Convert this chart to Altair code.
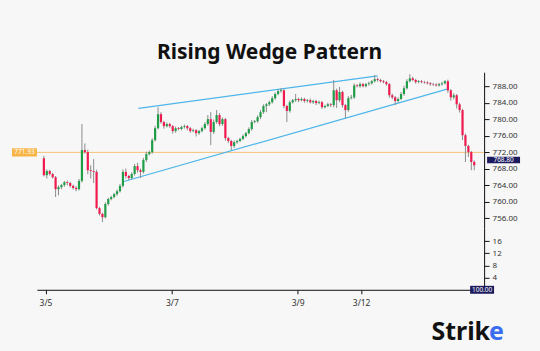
import altair as alt
import pandas as pd

TITLE = "Rising Wedge Pattern"

# closing prices per candle
closes = [
    766.4, 767.4, 766.7, 765.9, 763.0, 763.5, 764.0, 764.7, 764.5, 763.8,
    763.3, 763.0, 765.0, 772.5, 772.0, 767.6, 767.4, 767.2, 758.4, 757.0,
    756.2, 759.4, 760.6, 761.1, 761.8, 762.5, 763.8, 767.2, 766.2, 765.7,
    766.7, 768.6, 767.6, 767.2, 770.1, 771.5, 772.0, 774.9, 777.8, 781.2,
    779.3, 778.3, 778.8, 778.3, 777.1, 777.8, 777.6, 778.1, 778.3, 777.8,
    777.1, 777.3, 776.6, 777.1, 777.8, 778.8, 780.0, 776.9, 779.3, 781.0,
    778.8, 780.0, 775.4, 774.7, 773.5, 774.4, 774.7, 775.2, 775.9, 776.6,
    777.6, 779.3, 779.5, 780.5, 781.7, 783.2, 783.6, 784.1, 785.1, 786.1,
    786.8, 787.0, 783.2, 782.0, 784.1, 784.6, 784.9, 784.6, 784.9, 784.4,
    784.6, 784.1, 784.4, 783.9, 784.1, 782.9, 783.2, 783.6, 783.4, 787.0,
    784.6, 786.6, 783.4, 782.2, 785.1, 785.3, 788.2, 788.0, 788.5, 788.0,
    788.5, 788.7, 789.2, 789.7, 789.5, 789.2, 789.0, 788.5, 785.8, 785.3,
    784.4, 784.9, 786.1, 787.5, 789.2, 789.9, 789.5, 789.0, 789.2, 789.0,
    788.9, 788.7, 788.5, 788.4, 788.2, 788.5, 788.7, 789.2, 787.0, 785.3,
    785.8, 783.6, 782.2, 776.1, 773.5, 772.0, 769.6, 768.8,
]
first_open = 770.5

wick_up = [
    0.6, 0.4, 0.3, 0.3, 0.3, 0.4, 0.3, 0.3, 0.4, 0.3,
    0.3, 0.4, 0.5, 6.3, 1.6, 0.6, 1.2, 2.9, 0.5, 0.3,
    0.3, 0.4, 0.3, 0.3, 0.3, 0.4, 0.5, 0.6, 0.8, 0.3,
    0.4, 0.5, 0.8, 0.4, 0.5, 0.6, 0.4, 0.5, 0.6, 1.7,
    0.5, 0.3, 0.4, 0.3, 0.3, 0.4, 0.3, 0.3, 0.4, 0.3,
    0.3, 0.4, 0.3, 0.3, 0.4, 0.5, 1.0, 1.7, 0.6, 1.2,
    0.5, 0.4, 0.3, 0.3, 0.3, 0.4, 0.3, 0.3, 0.4, 0.3,
    0.4, 0.5, 0.3, 0.4, 0.5, 0.4, 0.3, 0.4, 0.5, 0.4,
    0.4, 0.5, 0.3, 0.3, 0.4, 0.3, 1.2, 0.3, 0.4, 0.3,
    0.3, 0.4, 0.3, 0.3, 0.4, 0.3, 0.3, 0.4, 0.3, 2.5,
    0.4, 1.2, 0.3, 0.3, 0.5, 0.6, 0.5, 0.3, 0.4, 0.3,
    0.3, 0.4, 0.3, 1.0, 0.4, 0.3, 0.3, 0.3, 0.3, 0.4,
    0.3, 0.4, 0.5, 0.6, 0.5, 1.0, 0.4, 0.3, 0.3, 0.3,
    0.3, 0.3, 0.3, 0.3, 0.3, 0.3, 0.4, 0.3, 0.4, 0.3,
    0.5, 0.3, 0.4, 0.3, 0.4, 0.3, 0.3, 0.4,
]
wick_dn = [
    0.3, 0.8, 0.4, 0.3, 1.9, 1.5, 0.5, 0.4, 0.6, 0.4,
    0.4, 0.5, 0.3, 0.4, 0.4, 1.0, 1.8, 2.7, 0.3, 0.4,
    1.2, 0.3, 0.4, 0.3, 0.3, 0.4, 0.3, 0.4, 0.6, 0.5,
    0.3, 0.4, 0.6, 1.5, 0.4, 0.5, 0.3, 0.4, 0.3, 0.3,
    0.4, 0.6, 0.3, 0.4, 0.6, 0.4, 0.3, 0.3, 0.4, 0.5,
    0.4, 0.3, 0.8, 0.4, 0.3, 0.3, 0.4, 3.2, 0.5, 0.4,
    0.5, 0.4, 0.6, 0.5, 1.0, 0.5, 0.4, 0.3, 0.3, 0.4,
    0.3, 0.4, 0.3, 0.4, 0.5, 0.4, 1.5, 0.4, 0.3, 0.4,
    0.3, 0.4, 0.6, 2.7, 0.4, 0.3, 0.4, 0.5, 0.3, 0.4,
    0.4, 0.3, 0.4, 0.5, 0.3, 0.4, 0.3, 0.3, 0.4, 0.5,
    1.9, 0.5, 0.6, 2.0, 0.4, 0.3, 0.4, 0.3, 0.4, 0.3,
    0.3, 0.4, 0.3, 0.3, 0.4, 0.3, 0.3, 0.4, 0.6, 0.5,
    1.0, 0.4, 0.3, 0.4, 0.3, 0.3, 0.3, 0.4, 0.3, 0.3,
    0.3, 0.3, 0.4, 0.3, 0.3, 0.3, 0.4, 0.3, 0.6, 0.8,
    0.5, 1.0, 0.6, 1.2, 3.9, 1.2, 2.0, 1.2,
]

# wedge trend lines (candle index, price)
wedge_name = ["upper", "upper", "lower", "lower"]
wedge_i = [32.3, 114.0, 27.0, 137.7]
wedge_p = [782.6, 790.5, 764.8, 787.3]

ref_price = 771.93
ref_label = "771.93"
last_label = "768.80"
vol_label = "100.00"

date_ticks = [2.2, 44.4, 86.4, 107.6]
date_labels = ["3/5", "3/7", "3/9", "3/12"]
price_ticks = [756, 760, 764, 768, 772, 776, 780, 784, 788]
vol_ticks = [4, 8, 12, 16]

GREEN = "#1f9d47"
RED = "#f01a4e"
FONT = "Noto Sans"

opens = [first_open] + closes[:-1]
idx = list(range(len(closes)))
highs = [max(o, c) + u for o, c, u in zip(opens, closes, wick_up)]
lows = [min(o, c) - d for o, c, d in zip(opens, closes, wick_dn)]
df = pd.DataFrame(dict(i=idx, open=opens, close=closes, high=highs, low=lows))

xs = alt.Scale(domain=[-0.667, 148.667], nice=False, zero=False)
ys = alt.Scale(domain=[753.6, 791.4], nice=False, zero=False)
vs = alt.Scale(domain=[0, 20.3], nice=False, zero=False)

axis_style = dict(orient="right", title=None, grid=False, domainColor="#111",
                  tickColor="#111", tickSize=5, labelFont=FONT, labelFontSize=8,
                  labelColor="#333", labelPadding=3, labelOverlap=False,
                  labelBound=False)
price_axis = alt.Axis(values=price_ticks, format=".2f", **axis_style)


def py(field):
    return alt.Y(field, scale=ys, axis=price_axis)


wicks = alt.Chart(df).mark_rule(color="#8c8c8c", strokeWidth=1).encode(
    x=alt.X("i:Q", scale=xs, axis=None), y=py("low:Q"), y2="high:Q",
)
bodies = alt.Chart(df).mark_bar(size=2.2).encode(
    x=alt.X("i:Q", scale=xs, axis=None), y=py("open:Q"), y2="close:Q",
    color=alt.condition("datum.close >= datum.open", alt.value(GREEN), alt.value(RED)),
)

wdf = pd.DataFrame(dict(name=wedge_name, i=wedge_i, p=wedge_p))
wedges = alt.Chart(wdf).mark_line(color="#4db6ea", strokeWidth=1.2).encode(
    x=alt.X("i:Q", scale=xs, axis=None), y=py("p:Q"), detail="name:N",
)

rdf = pd.DataFrame(dict(p=[ref_price], lo=[ref_price - 1.0], hi=[ref_price + 1.0], lab=[ref_label]))
ref_rule = alt.Chart(rdf).mark_rule(color="#f8c27a", strokeWidth=1).encode(y=py("p:Q"))
ref_box = alt.Chart(rdf).mark_rect(color="#f7b548").encode(
    x=alt.value(-25), x2=alt.value(0), y=py("lo:Q"), y2="hi:Q")
ref_txt = alt.Chart(rdf).mark_text(color="white", fontSize=6.5, font=FONT).encode(
    x=alt.value(-12.5), y=py("p:Q"), text="lab:N")

# price tag for the last close, drawn just above its level as in the picture
last = closes[-1]
tag_mid = last + 1.3
ldf = pd.DataFrame(dict(p=[tag_mid], lo=[tag_mid - 0.8], hi=[tag_mid + 0.8], lab=[last_label]))
last_box = alt.Chart(ldf).mark_rect(color="#1b1b5e").encode(
    x=alt.value(451), x2=alt.value(484), y=py("lo:Q"), y2="hi:Q")
last_txt = alt.Chart(ldf).mark_text(color="white", fontSize=6.5, font=FONT).encode(
    x=alt.value(467.5), y=py("p:Q"), text="lab:N")

title = alt.Chart(pd.DataFrame(dict(t=[TITLE]))).mark_text(
    fontSize=21, fontWeight="bold", font=FONT, color="#111", baseline="alphabetic"
).encode(x=alt.value(233), y=alt.value(-13), text="t:N")

price = alt.layer(
    ref_rule, wedges, wicks, bodies, ref_box, ref_txt, last_box, last_txt, title
).properties(width=448, height=156)

# lower (volume) pane
vdf = pd.DataFrame(dict(i=idx, v=[0.0] * len(idx)))
labexpr = " : ".join(
    f"datum.value < {t + 1} ? '{l}'" for t, l in zip(date_ticks[:-1], date_labels[:-1])
) + f" : '{date_labels[-1]}'"
vol_axis = alt.Axis(values=vol_ticks, format="d", **axis_style)
base_vol = alt.Chart(vdf).mark_point(opacity=0).encode(
    x=alt.X("i:Q", scale=xs, axis=alt.Axis(
        values=date_ticks, labelExpr=labexpr, title=None, grid=False, domainColor="#111",
        tickColor="#111", tickSize=4, labelFont=FONT, labelFontSize=8.5,
        labelColor="#333", labelPadding=5, labelOverlap=False)),
    y=alt.Y("v:Q", scale=vs, axis=vol_axis),
)
tdf = pd.DataFrame(dict(v=[0.0], lo=[-1.3], hi=[1.3], lab=[vol_label]))
vol_box = alt.Chart(tdf).mark_rect(color="#1b1b5e").encode(
    x=alt.value(434), x2=alt.value(458), y=alt.Y("lo:Q", scale=vs, axis=vol_axis), y2="hi:Q")
vol_txt = alt.Chart(tdf).mark_text(color="white", fontSize=6.5, font=FONT).encode(
    x=alt.value(446), y=alt.Y("v:Q", scale=vs, axis=vol_axis), text="lab:N")

logo_a = alt.Chart(pd.DataFrame(dict(t=["Strik"]))).mark_text(
    fontSize=25, fontWeight="bold", font=FONT, color="#111", align="right", baseline="alphabetic"
).encode(x=alt.value(454), y=alt.value(112), text="t:N")
logo_b = alt.Chart(pd.DataFrame(dict(t=["e"]))).mark_text(
    fontSize=25, fontWeight="bold", font=FONT, color="#3a6df0", align="left", baseline="alphabetic"
).encode(x=alt.value(453), y=alt.value(112), text="t:N")

vol = alt.layer(base_vol, vol_box, vol_txt, logo_a, logo_b).properties(width=448, height=62)

chart = alt.vconcat(price, vol, spacing=0).properties(
    padding={"left": 12, "top": 42, "right": 20, "bottom": 10},
    background="#f7f7f7",
).configure_view(stroke=None).configure_axis(labelOverlap=False)

chart.save("out.html", embed_options={"renderer": "svg", "actions": False})
